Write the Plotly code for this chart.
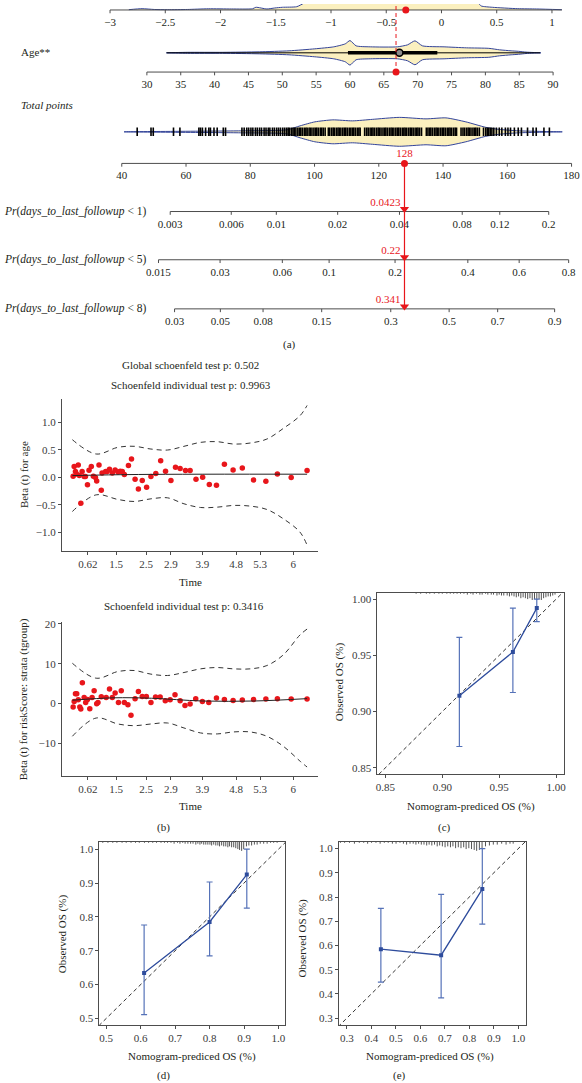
import math
import plotly.graph_objects as go

W, H = 582, 1083
FONT = "Liberation Serif"
INK = "#231F20"
AXC = "#4D4D4D"
RED = "#E8161B"
NAVY = "#33449A"
VFILL = "#FBF0BF"
BLUE = "#2E4C9C"
BLUE_ERR = "#5572B8"

# ======================= DATA =======================
# ---- (a) nomogram ----
risk_ticks = [-3, -2.5, -2, -1.5, -1, -0.5, 0, 0.5, 1]
age_ticks = [30, 35, 40, 45, 50, 55, 60, 65, 70, 75, 80, 85, 90]
total_ticks = [40, 60, 80, 100, 120, 140, 160, 180]
pr_ticks = [
    [0.003, 0.006, 0.01, 0.02, 0.04, 0.08, 0.12, 0.2],
    [0.015, 0.03, 0.06, 0.1, 0.2, 0.4, 0.6, 0.8],
    [0.03, 0.05, 0.08, 0.15, 0.3, 0.5, 0.7, 0.9],
]
pr_titles = [
    "<i>Pr</i>(<i>days_to_last_followup</i> &lt; 1)",
    "<i>Pr</i>(<i>days_to_last_followup</i> &lt; 5)",
    "<i>Pr</i>(<i>days_to_last_followup</i> &lt; 8)",
]
patient_risk = -0.323
patient_age = 66.8
patient_total = 128
patient_pr = [0.0423, 0.22, 0.341]
patient_pr_text = ["0.0423", "0.22", "0.341"]

# density outlines (value, half-width in px)
risk_dens_x = [-2.83, -2.71, -2.60, -2.48, -2.30, -2.11, -1.90, -1.71, -1.68, -1.58, -1.51,
               -1.44, -1.31, -1.24, -1.1, -0.8, -0.4, 0.0, 0.2, 0.33, 0.36, 0.46, 0.69, 0.86, 1.09]
risk_dens_w = [0.3, 1.3, 0.5, 0.3, 0.5, 1.2, 1.0, 1.2, 2.7, 1.0, 2.0,
               2.7, 3.3, 7, 12, 18, 22, 18, 10, 7, 4, 2.7, 1.3, 1.0, 0.3]
age_dens_x = [32.9, 36, 41.2, 46.6, 51, 54.8, 57.6, 59.3, 60, 60.9, 63, 67, 68.5, 69.6, 70.7,
              73.9, 77.2, 80.5, 82.1, 83.8, 84.9, 86, 88.2]
age_dens_w = [0, 0.5, 0.5, 1, 2, 4, 6, 9, 12.3, 7, 6, 6, 8, 12, 7, 6, 5, 4.5, 3, 2, 1.5, 0.7, 0]
age_range = [32.9, 88.1]
age_iqr = [59.7, 72.9]
age_median = 67.3
total_dens_x = [40.7, 76.9, 91.4, 95.5, 100.1, 105.7, 111.8, 118.0, 126.4, 134.7, 140.9,
                147.1, 153.3, 157.3, 163.5, 177.1]
total_dens_w = [0, 1, 2, 6, 10, 12, 11, 12.5, 14.5, 13, 14, 10, 4.5, 2.5, 1, 0]
total_rug = [44.8, 49.1, 49.8, 56.1, 58.1, 64.0, 64.5, 65.1, 66.1, 67.1, 67.6, 68.7, 69.7, 71.6, 72.3,
             77.4, 78.1, 78.9, 79.5, 80.2, 80.8, 81.6, 82.2, 82.9, 83.5, 84.3, 84.9, 85.6, 86.1, 86.9,
             87.5, 88.2, 88.8, 89.4, 90.1, 90.7,
             91.3, 91.8, 92.2, 92.8, 93.3, 93.7, 94.2, 94.8, 95.3, 95.7, 96.2, 96.8, 97.3, 97.7, 98.3,
             98.7, 99.2, 99.8, 100.3, 100.7, 101.2, 101.8, 102.2, 102.7, 103.3, 104.3, 104.7, 105.3,
             105.8, 106.2, 106.8, 107.3, 107.7, 108.2, 108.8, 109.3, 109.7, 110.2, 110.8, 111.3, 111.8,
             112.2, 112.7, 113.3, 113.8, 114.2, 115.6, 116.2, 116.7, 117.3, 117.8, 118.2, 118.7, 119.3,
             119.8, 120.2, 120.7, 121.3, 121.8, 122.2, 122.7, 123.3, 123.8, 124.2, 124.7, 125.3, 125.8,
             126.2, 126.7, 127.3, 127.8, 128.2, 128.7, 129.3, 129.8, 130.2, 130.7, 131.3, 131.8, 132.2,
             132.7, 133.3, 134.8, 135.3, 135.8, 136.2, 136.7, 137.3, 137.8, 138.2, 138.7, 139.3, 139.8,
             140.2, 140.7, 141.3, 141.8, 142.2, 142.7, 143.3, 143.8, 144.2, 145.6, 146.2, 146.7, 147.3,
             147.8, 148.2, 148.7, 149.3, 149.8, 150.2, 150.7, 151.3, 152.6, 153.3, 153.8, 154.2, 154.7,
             155.2, 155.8, 156.6, 157.5, 158.3, 159.4, 160.2, 161.0, 162.2, 163.4, 164.4, 166.3, 168.0,
             169.0, 171.4, 173.1]

# ---- (b) Schoenfeld residuals (x = km-transformed time) ----
sch_time_pos = [0.102, 0.212, 0.329, 0.426, 0.549, 0.681, 0.775, 0.904]
sch_time_labels = ["0.62", "1.5", "2.5", "2.9", "3.9", "4.8", "5.3", "6"]
sch1_u = [0.044, 0.048, 0.053, 0.057, 0.064, 0.068, 0.074, 0.079, 0.087, 0.092,
          0.100, 0.106, 0.115, 0.123, 0.131, 0.136, 0.145, 0.154, 0.157, 0.171,
          0.177, 0.186, 0.197, 0.208, 0.219, 0.228, 0.236, 0.244, 0.260, 0.272,
          0.286, 0.299, 0.314, 0.331, 0.348, 0.367, 0.386, 0.405, 0.426, 0.444,
          0.462, 0.483, 0.501, 0.524, 0.550, 0.576, 0.604, 0.635, 0.669, 0.705,
          0.749, 0.797, 0.842, 0.896, 0.958]
sch1_beta = [0.018, 0.193, 0.102, 0.060, 0.223, 0.030, -0.469, 0.102, 0.012, 0.012,
             -0.138, 0.126, 0.193, 0.018, -0.006, -0.066, 0.223, -0.235, 0.078, 0.102,
             0.102, 0.144, 0.078, 0.132, 0.096, 0.108, 0.102, 0.048, 0.211, 0.331,
             -0.036, -0.211, -0.060, -0.181, 0.012, 0.066, 0.301, 0.108, -0.060, 0.181,
             0.157, 0.120, 0.120, -0.036, 0.000, -0.132, -0.144, 0.235, 0.132, 0.169,
             -0.048, -0.072, 0.060, -0.006, 0.120]
sch_band_u = [0.041, 0.134, 0.219, 0.283, 0.348, 0.413, 0.477, 0.542, 0.607, 0.671,
              0.736, 0.801, 0.865, 0.930, 0.958]
sch1_upper = [0.680, 0.421, 0.542, 0.560, 0.511, 0.493, 0.560, 0.632, 0.644, 0.602,
              0.620, 0.692, 0.884, 1.113, 1.30]
sch1_lower = [-0.620, -0.319, -0.403, -0.439, -0.391, -0.373, -0.481, -0.548, -0.542, -0.511,
              -0.523, -0.584, -0.752, -0.993, -1.23]
sch1_fit_u = [0.041, 0.30, 0.958]
sch1_fit = [0.03, 0.05, 0.055]

sch2_u = [0.044, 0.048, 0.053, 0.058, 0.064, 0.070, 0.074, 0.080, 0.087, 0.093,
          0.100, 0.109, 0.118, 0.126, 0.136, 0.141, 0.154, 0.173, 0.186, 0.197,
          0.208, 0.221, 0.232, 0.244, 0.258, 0.270, 0.286, 0.299, 0.314, 0.330,
          0.348, 0.366, 0.384, 0.404, 0.423, 0.442, 0.462, 0.481, 0.501, 0.523,
          0.549, 0.574, 0.604, 0.635, 0.669, 0.705, 0.749, 0.797, 0.842, 0.896, 0.958]
sch2_beta = [-0.92, 0.5, 2.43, 2.43, 0.92, -0.92, -1.42, 5.18, 1.5, 0.25,
             1.0, -1.34, 1.5, 3.17, -0.08, 0.25, 1.67, 1.5, 3.6, 1.5,
             2.59, 0.25, 3.17, 0.25, -0.33, -3.0, 1.17, 3.0, 1.75, 1.75,
             0.25, 1.59, 1.59, 0.67, 0.92, 2.17, 0.67, -0.5, -0.17, 1.17,
             0.5, 0.25, 1.33, 1.0, 0.75, 0.83, 1.0, 1.08, 1.17, 1.08, 1.08]
sch2_upper = [10.10, 6.34, 8.02, 8.27, 7.36, 7.02, 7.77, 8.69, 9.02, 8.69,
              8.69, 9.52, 12.2, 17.2, 18.7]
sch2_lower = [-8.27, -3.68, -5.18, -5.6, -5.18, -4.93, -6.18, -7.43, -7.68, -7.18,
              -7.18, -8.27, -10.78, -14.5, -16.0]
sch2_fit_u = [0.041, 0.20, 0.35, 0.55, 0.75, 0.958]
sch2_fit = [0.8, 1.4, 1.3, 0.6, 0.6, 1.2]

# ---- (c)(d)(e) calibration ----
c_pred = [0.915, 0.962, 0.983]
c_obs = [0.914, 0.953, 0.992]
c_lo = [0.869, 0.917, 0.980]
c_hi = [0.966, 0.992, 1.000]
c_rug_x = [0.877, 0.881, 0.886, 0.889, 0.893, 0.897, 0.900, 0.904, 0.907, 0.910,
           0.913, 0.916, 0.919, 0.922, 0.925, 0.927, 0.930, 0.933, 0.935, 0.938,
           0.940, 0.943, 0.945, 0.948, 0.950, 0.952, 0.954, 0.957, 0.959, 0.961,
           0.963, 0.965, 0.967, 0.969, 0.971, 0.973, 0.975, 0.977, 0.979, 0.981,
           0.983, 0.985, 0.987, 0.989, 0.991, 0.993, 0.995, 0.997, 0.999]
c_rug_n = [1, 1, 1, 1, 1, 1, 1, 1, 1, 1,
           1, 1, 1, 2, 1, 2, 1, 2, 2, 1,
           2, 2, 2, 3, 2, 3, 3, 3, 4, 3,
           4, 5, 4, 6, 5, 6, 7, 6, 8, 7,
           8, 7, 8, 6, 5, 4, 4, 3, 2]

d_pred = [0.610, 0.800, 0.908]
d_obs = [0.634, 0.785, 0.925]
d_lo = [0.511, 0.685, 0.826]
d_hi = [0.776, 0.903, 1.000]
d_rug_x = [0.490, 0.505, 0.519, 0.531, 0.546, 0.558, 0.572, 0.585, 0.596, 0.611,
           0.623, 0.635, 0.646, 0.659, 0.669, 0.678, 0.688, 0.697, 0.707, 0.714,
           0.722, 0.729, 0.737, 0.745, 0.752, 0.760, 0.766, 0.772, 0.777, 0.783,
           0.789, 0.795, 0.801, 0.806, 0.812, 0.818, 0.824, 0.829, 0.835, 0.841,
           0.847, 0.853, 0.858, 0.864, 0.870, 0.876, 0.882, 0.887, 0.893, 0.899,
           0.907, 0.914, 0.922, 0.930, 0.938, 0.947, 0.957, 0.967, 0.977, 0.986, 0.996]
d_rug_n = [1, 1, 1, 1, 1, 1, 1, 1, 1, 1,
           1, 1, 1, 1, 1, 1, 1, 2, 1, 2,
           1, 2, 2, 2, 2, 3, 2, 3, 2, 3,
           3, 3, 3, 4, 3, 4, 4, 5, 4, 5,
           5, 6, 5, 6, 6, 7, 8, 9, 10, 8,
           5, 4, 4, 3, 3, 2, 2, 2, 1, 1, 1]

e_pred = [0.439, 0.685, 0.853]
e_obs = [0.585, 0.560, 0.833]
e_lo = [0.449, 0.384, 0.688]
e_hi = [0.753, 0.811, 1.000]
e_rug_x = [0.274, 0.291, 0.311, 0.331, 0.351, 0.369, 0.385, 0.401, 0.419, 0.436,
           0.453, 0.469, 0.486, 0.501, 0.517, 0.531, 0.544, 0.558, 0.571, 0.582,
           0.593, 0.604, 0.615, 0.626, 0.636, 0.647, 0.658, 0.669, 0.679, 0.690,
           0.701, 0.712, 0.723, 0.733, 0.744, 0.755, 0.766, 0.777, 0.787, 0.798,
           0.809, 0.820, 0.830, 0.841, 0.852, 0.866, 0.882, 0.898, 0.914, 0.932,
           0.950, 0.966, 0.979]
e_rug_n = [1, 1, 1, 2, 1, 1, 2, 1, 1, 2,
           1, 1, 2, 2, 1, 2, 3, 2, 2, 3,
           2, 3, 3, 4, 3, 4, 3, 5, 4, 5,
           6, 5, 6, 5, 7, 6, 7, 6, 8, 7,
           8, 9, 10, 9, 7, 5, 4, 3, 3, 2,
           3, 2, 2]

# ======================= LAYOUT GEOMETRY (px) =======================
BOX_S1 = (60.3, 396, 318, 549)
BOX_S2 = (60.3, 620, 318, 775)
BOX_C = (378, 591, 566, 773)
BOX_D = (98, 841, 285, 1025)
BOX_E = (339.3, 841, 527.3, 1025)
NOMO_H = 330
Y_RISK, Y_AGE_V, Y_AGE, Y_TOT_V, Y_TOT = 6, 49, 68.3, 128.3, 160
Y_PR = [208.3, 256.7, 306]
TICK, LBL = 3.3, 13.3
PX_PER_PT = 3.235

# nomogram scales: every row mapped onto the total-points scale
def lin(v0, p0, v1, p1):
    return lambda v: p0 + (v - v0) * (p1 - p0) / (v1 - v0)

risk_pts = lin(-3, 36.35, 1, 173.9)
age_pts = lin(30, 47.82, 90, 174.25)
tot_pts = lambda v: v
PTS_PER_LP = 27.35


def cloglog(p):
    return math.log(-math.log(1 - p))


def pr_scale(p_ref):
    c = patient_total - PTS_PER_LP * cloglog(p_ref)
    return lambda p: c + PTS_PER_LP * cloglog(p)


pr_scales = [pr_scale(p) for p in patient_pr]

fig = go.Figure()
NOMO = dict(xaxis="x", yaxis="y")


def add(tr):
    tr.update(hoverinfo="skip", showlegend=False)
    fig.add_trace(tr)


def fmt(v):
    return ("%g" % v).replace("-", "\u2212")


# ---------- violins ----------
def violin(xs, ws, yc, to_pts):
    px = [to_pts(v) for v in xs]
    X = px + px[::-1]
    Y = [yc - w for w in ws] + [yc + w for w in ws[::-1]]
    add(go.Scatter(x=X, y=Y, mode="lines", fill="toself", fillcolor=VFILL,
                   line=dict(color=NAVY, width=1, shape="spline", smoothing=0.6), **NOMO))


# risk row: only the lower part of the violin is visible above the axis
rp = [risk_pts(v) for v in risk_dens_x]
add(go.Scatter(x=rp + rp[::-1], y=[Y_RISK - w for w in risk_dens_w] + [Y_RISK] * len(rp),
               mode="lines", fill="toself", fillcolor=VFILL, line=dict(width=0), **NOMO))
add(go.Scatter(x=rp, y=[Y_RISK - w for w in risk_dens_w], mode="lines",
               line=dict(color=NAVY, width=1, shape="spline", smoothing=0.6), **NOMO))

violin(age_dens_x, age_dens_w, Y_AGE_V, age_pts)
add(go.Scatter(x=[age_pts(v) for v in age_range], y=[Y_AGE_V] * 2, mode="lines",
               line=dict(color="black", width=1), **NOMO))
add(go.Scatter(x=[age_pts(v) for v in age_iqr], y=[Y_AGE_V] * 2, mode="lines",
               line=dict(color="black", width=3.5), **NOMO))
add(go.Scatter(x=[age_pts(age_median)], y=[Y_AGE_V], mode="markers",
               marker=dict(size=7, color="#8C8C8C", line=dict(color="black", width=1.5)), **NOMO))

violin(total_dens_x, total_dens_w, Y_TOT_V, tot_pts)
rx, ry = [], []
for v in total_rug:
    rx += [v, v, None]
    ry += [Y_TOT_V - 4.3, Y_TOT_V + 4.3, None]
add(go.Scatter(x=rx, y=ry, mode="lines", line=dict(color="black", width=1.6), **NOMO))


# ---------- nomogram axes ----------
def nomo_axis(values, labels, to_pts, y, extend_to=None):
    xs = [to_pts(v) for v in values]
    lo, hi = min(xs), max(xs)
    if extend_to is not None:
        hi = max(hi, to_pts(extend_to))
    add(go.Scatter(x=[lo, hi], y=[y, y], mode="lines", line=dict(color=AXC, width=1), **NOMO))
    tx, ty = [], []
    for x in xs:
        tx += [x, x, None]
        ty += [y, y + TICK, None]
    add(go.Scatter(x=tx, y=ty, mode="lines", line=dict(color=AXC, width=1), **NOMO))
    add(go.Scatter(x=xs, y=[y + LBL] * len(xs), mode="text", text=labels, cliponaxis=False,
                   textfont=dict(family=FONT, size=11, color=INK), **NOMO))


nomo_axis(risk_ticks, [fmt(v) for v in risk_ticks], risk_pts, Y_RISK, extend_to=max(risk_dens_x))
nomo_axis(age_ticks, [fmt(v) for v in age_ticks], age_pts, Y_AGE)
nomo_axis(total_ticks, [fmt(v) for v in total_ticks], tot_pts, Y_TOT)
for k in range(3):
    nomo_axis(pr_ticks[k], [str(v) for v in pr_ticks[k]], pr_scales[k], Y_PR[k])

# ---------- patient (red) ----------
xa = age_pts(patient_age)
add(go.Scatter(x=[xa, xa], y=[-5, Y_AGE], mode="lines",
               line=dict(color=RED, width=1, dash="4px,3px"), **NOMO))
add(go.Scatter(x=[patient_total, patient_total], y=[Y_TOT, Y_PR[2] - 2], mode="lines",
               line=dict(color=RED, width=1.2), **NOMO))
add(go.Scatter(x=[risk_pts(patient_risk), xa, tot_pts(patient_total)], y=[Y_RISK, Y_AGE, Y_TOT],
               mode="markers", marker=dict(size=7, color=RED), cliponaxis=False, **NOMO))
add(go.Scatter(x=[pr_scales[k](patient_pr[k]) for k in range(3)], y=[y - 2.5 for y in Y_PR],
               mode="markers", marker=dict(symbol="triangle-down", size=8, color=RED), **NOMO))
add(go.Scatter(x=[patient_total], y=[Y_TOT - 9.3], mode="text", text=[fmt(patient_total)],
               textfont=dict(family=FONT, size=11, color=RED), **NOMO))
add(go.Scatter(x=[pr_scales[k](patient_pr[k]) - 4 / PX_PER_PT for k in range(3)],
               y=[y - 8.3 for y in Y_PR],
               mode="text", text=patient_pr_text, textposition="middle left",
               textfont=dict(family=FONT, size=11, color=RED), **NOMO))

# ---------- (b) Schoenfeld ----------
def schoenfeld(n, u, beta, fit_u, fit, up, lo):
    ax = dict(xaxis="x%d" % n, yaxis="y%d" % n)
    add(go.Scatter(x=sch_band_u, y=up, mode="lines",
                   line=dict(color="#333333", width=1, dash="5px,4px", shape="spline"), **ax))
    add(go.Scatter(x=sch_band_u, y=lo, mode="lines",
                   line=dict(color="#333333", width=1, dash="5px,4px", shape="spline"), **ax))
    add(go.Scatter(x=u, y=beta, mode="markers", marker=dict(size=5.5, color=RED), **ax))
    add(go.Scatter(x=fit_u, y=fit, mode="lines",
                   line=dict(color="#222222", width=1, shape="spline"), **ax))


schoenfeld(2, sch1_u, sch1_beta, sch1_fit_u, sch1_fit, sch1_upper, sch1_lower)
schoenfeld(3, sch2_u, sch2_beta, sch2_fit_u, sch2_fit, sch2_upper, sch2_lower)


# ---------- calibration ----------
def calib(n, pred, obs, lo, hi, rug_x, rug_n, box, yr):
    ax = dict(xaxis="x%d" % n, yaxis="y%d" % n)
    add(go.Scatter(x=[0, 1.2], y=[0, 1.2], mode="lines",
                   line=dict(color="#333333", width=1, dash="4px,3px"), **ax))
    per_px = (yr[1] - yr[0]) / (box[3] - box[1])
    X, Y = [], []
    for x, c in zip(rug_x, rug_n):
        X += [x, x, None]
        Y += [yr[1], yr[1] - c * 0.9 * per_px, None]
    add(go.Scatter(x=X, y=Y, mode="lines", line=dict(color="#555555", width=1), **ax))
    add(go.Scatter(x=pred, y=obs, mode="lines+markers",
                   line=dict(color=BLUE, width=1.3),
                   marker=dict(symbol="square", size=4, color=BLUE),
                   error_y=dict(type="data", symmetric=False,
                                array=[h - o for h, o in zip(hi, obs)],
                                arrayminus=[o - l for o, l in zip(obs, lo)],
                                color=BLUE_ERR, thickness=1.2, width=3), **ax))


YR_C, XR_C = [0.8444, 1.0056], [0.843, 1.007]
YR_D, XR_D = [0.480, 1.0215], [0.480, 1.019]
YR_E, XR_E = [0.271, 1.0276], [0.268, 1.030]
calib(4, c_pred, c_obs, c_lo, c_hi, c_rug_x, c_rug_n, BOX_C, YR_C)
calib(5, d_pred, d_obs, d_lo, d_hi, d_rug_x, d_rug_n, BOX_D, YR_D)
calib(6, e_pred, e_obs, e_lo, e_hi, e_rug_x, e_rug_n, BOX_E, YR_E)

# ======================= LAYOUT =======================
def dom(box):
    l, t, r, b = box
    return [l / W, r / W], [1 - b / H, 1 - t / H]


TF = dict(family=FONT, size=11, color="#3A3A3A")
layout = dict(width=W, height=H, margin=dict(l=0, r=0, t=0, b=0),
              paper_bgcolor="white", plot_bgcolor="rgba(0,0,0,0)",
              showlegend=False, hovermode=False)
layout["xaxis"] = dict(domain=[0, 1], range=[40 - 120.6 / PX_PER_PT, 40 + (W - 120.6) / PX_PER_PT],
                       visible=False, fixedrange=True)
layout["yaxis"] = dict(domain=[1 - NOMO_H / H, 1], range=[NOMO_H, 0], visible=False, fixedrange=True)

base = dict(showline=True, linecolor=AXC, linewidth=1, ticks="outside", ticklen=3,
            tickcolor=AXC, tickfont=TF, showgrid=False, zeroline=False, fixedrange=True)

for n, box, yr, yt, yf in [(2, BOX_S1, [-1.336, 1.426], [-1, -0.5, 0, 0.5, 1], ".1f"),
                           (3, BOX_S2, [-18.3, 20.55], [-10, 0, 10, 20], "d")]:
    dx, dy = dom(box)
    layout["xaxis%d" % n] = dict(base, domain=dx, range=[0, 1], anchor="y%d" % n,
                                 tickvals=sch_time_pos, ticktext=sch_time_labels)
    layout["yaxis%d" % n] = dict(base, domain=dy, range=yr, anchor="x%d" % n,
                                 tickvals=yt, tickformat=yf)

for n, box, xr, yr, tv, tf in [
        (4, BOX_C, XR_C, YR_C, [0.85, 0.90, 0.95, 1.00], ".2f"),
        (5, BOX_D, XR_D, YR_D, [0.5, 0.6, 0.7, 0.8, 0.9, 1.0], ".1f"),
        (6, BOX_E, XR_E, YR_E, [0.3, 0.4, 0.5, 0.6, 0.7, 0.8, 0.9, 1.0], ".1f")]:
    dx, dy = dom(box)
    layout["xaxis%d" % n] = dict(base, domain=dx, range=xr, anchor="y%d" % n, mirror=True,
                                 tickvals=tv, tickformat=tf)
    layout["yaxis%d" % n] = dict(base, domain=dy, range=yr, anchor="x%d" % n, mirror=True,
                                 tickvals=tv, tickformat=tf)

anns = []


def ann(text, px, py, size=11, xanchor="center", angle=0, color=INK):
    anns.append(dict(text=text, x=px / W, y=1 - py / H, xref="paper", yref="paper",
                     xanchor=xanchor, yanchor="middle", showarrow=False, textangle=angle,
                     font=dict(family=FONT, size=size, color=color)))


ann("Age**", 16.7, 48.3, xanchor="left")
ann("<i>Total points</i>", 16.7, 101, xanchor="left")
for k in range(3):
    ann(pr_titles[k], 0.5, Y_PR[k], size=11.5, xanchor="left")
ann("(a)", 289, 342)
ann("Global schoenfeld test p: 0.502", 190, 362)
ann("Schoenfeld individual test p: 0.9963", 190, 382)
ann("Beta (t) for age", 22, 472, angle=-90)
ann("Time", 190, 580)
ann("Schoenfeld individual test p: 0.3416", 183, 604)
ann("Beta (t) for riskScore: strata (tgroup)", 22, 698, angle=-90)
ann("Time", 190, 805)
ann("(b)", 163, 827)
ann("Observed OS (%)", 340, 680, angle=-90)
ann("Nomogram-prediced OS (%)", 472, 805)
ann("(c)", 446, 827)
ann("Observed OS (%)", 61, 933, angle=-90)
ann("Nomogram-prediced OS (%)", 191, 1056)
ann("(d)", 163, 1075)
ann("Observed OS (%)", 303, 937, angle=-90)
ann("Nomogram-prediced OS (%)", 431, 1056)
ann("(e)", 400, 1075)
layout["annotations"] = anns

fig.update_layout(**layout)
fig.write_html("out.html", config={"displayModeBar": False, "staticPlot": True},
               post_script="document.body.style.margin='0';document.body.style.overflow='hidden';")
